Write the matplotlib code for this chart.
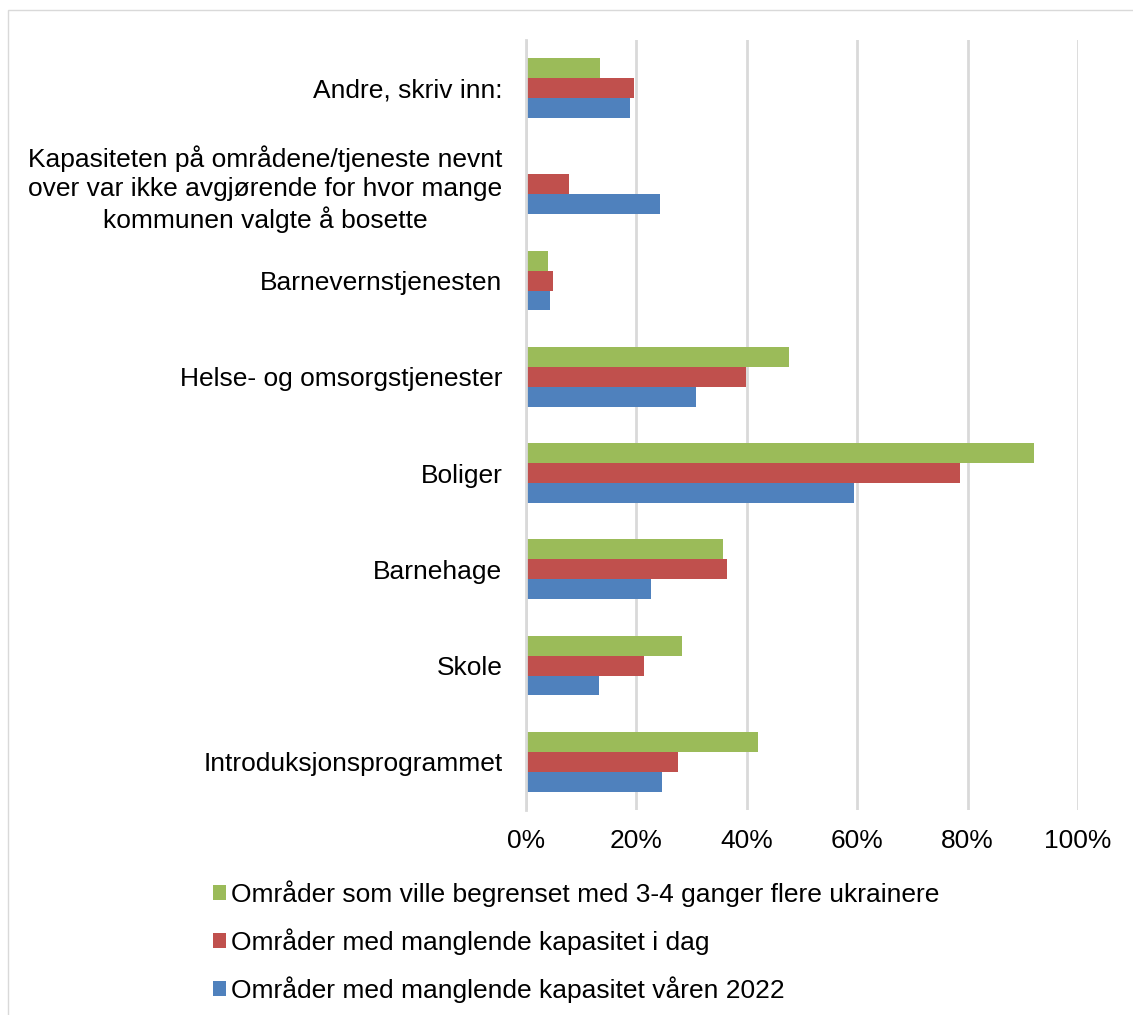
import numpy as np
import matplotlib.pyplot as plt
from matplotlib.patches import Rectangle
from matplotlib.ticker import PercentFormatter

plt.rcParams['font.family'] = ['Liberation Sans', 'DejaVu Sans']

# categories, bottom to top
categories = [
    "Introduksjonsprogrammet",
    "Skole",
    "Barnehage",
    "Boliger",
    "Helse- og omsorgstjenester",
    "Barnevernstjenesten",
    "Kapasiteten på områdene/tjeneste nevnt\nover var ikke avgjørende for hvor mange\nkommunen valgte å bosette",
    "Andre, skriv inn:",
]

# values in percent
vaaren_2022 = [24.7, 13.3, 22.7, 59.4, 30.7, 4.4, 24.3, 18.9]
i_dag = [27.6, 21.3, 36.4, 78.7, 39.9, 4.8, 7.8, 19.5]
flere_ukrainere = [42.1, 28.2, 35.6, 92.1, 47.6, 4.0, 0.0, 13.4]

labels = [
    "Områder som ville begrenset med 3-4 ganger flere ukrainere",
    "Områder med manglende kapasitet i dag",
    "Områder med manglende kapasitet våren 2022",
]
colors = ["#9BBB59", "#C0504D", "#4F81BD"]

fig = plt.figure(figsize=(11.33, 10.15), dpi=100)
ax = fig.add_axes([0.4643, 0.202, 0.4872, 0.7586])

y = np.arange(len(categories))
h = 0.207
b_green = ax.barh(y + h, flere_ukrainere, height=h, color=colors[0], label=labels[0])
b_red = ax.barh(y, i_dag, height=h, color=colors[1], label=labels[1])
b_blue = ax.barh(y - h, vaaren_2022, height=h, color=colors[2], label=labels[2])

ax.set_xlim(0, 100)
ax.set_ylim(-0.5, len(categories) - 0.5)
ax.set_xticks(np.arange(0, 101, 20))
ax.xaxis.set_major_formatter(PercentFormatter(decimals=0))
ax.set_yticks(y)
ax.set_yticklabels(categories, multialignment='center', linespacing=1.25)

ax.grid(axis='x', color='#D9D9D9', linewidth=2)
ax.set_axisbelow(True)
for s in ['top', 'right', 'bottom']:
    ax.spines[s].set_visible(False)
ax.spines['left'].set_color('#D9D9D9')
ax.spines['left'].set_linewidth(2)
ax.tick_params(axis='both', length=0, labelsize=19)
ax.tick_params(axis='y', pad=17)
ax.tick_params(axis='x', pad=14)

fig.legend(handles=[b_green, b_red, b_blue], loc='upper left',
           bbox_to_anchor=(0.176, 0.146), frameon=False, fontsize=19,
           handlelength=0.5, handleheight=0.5, handletextpad=0.2,
           labelspacing=0.82, borderpad=0)

# thin frame around the figure
fig.patches.append(Rectangle((0.007, -0.01), 1.1, 1.0, transform=fig.transFigure,
                             fill=False, edgecolor='#D9D9D9', linewidth=1))

fig.savefig("out.png", dpi=100)
